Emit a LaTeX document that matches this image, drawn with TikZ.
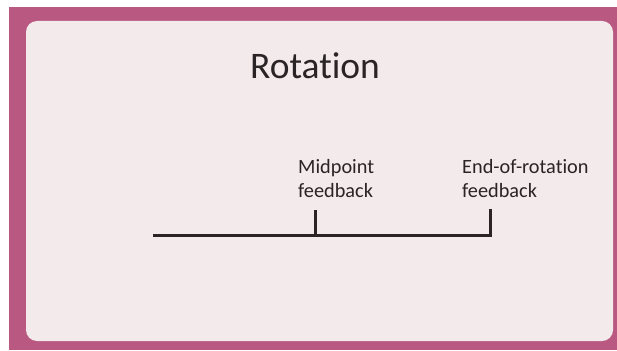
\documentclass[tikz,border=0pt]{standalone}
\usepackage{fontspec}
\setmainfont[Ligatures=NoCommon]{Carlito}
\usepackage{xcolor}
\usetikzlibrary{positioning}

\definecolor{frame}{HTML}{B95880}
\definecolor{slide}{HTML}{F2EAEB}
\definecolor{ink}{HTML}{2A2426}

\begin{document}
\begin{tikzpicture}[
    x=1pt, y=-1pt,
    lbl/.style={anchor=base west, align=left, inner sep=0pt, text=ink, font=\fontsize{20.3}{24}\selectfont},
    bar/.style={ink, line width=3pt}
  ]
    \useasboundingbox (0,0) rectangle (617,350);
    %% ---- Slide frame ----
    \fill[frame] (9,7) rectangle (617,350);
    \fill[slide, rounded corners=11pt] (26,21) rectangle (613,341);

    %% ---- Title ----
    \node[anchor=base, inner sep=0pt, text=ink, font=\fontsize{37.5}{42}\selectfont] (title) at (315,78) {Rotation};

    %% ---- Timeline ----
    \coordinate (start) at (153,235);
    \coordinate (mid) at (315,235);
    \coordinate (stop) at (490,235);
    \coordinate (midtop) at (315,210);
    \coordinate (stoptop) at (490,210);
    \draw[bar] (start) -- (stop);
    \draw[bar] (mid) -- (midtop);
    \draw[bar, line cap=rect] (stop) -- (stoptop);

    %% ---- Labels ----
    \node[lbl] (midlbl) at (298,197) {Midpoint\\feedback};
    \node[lbl] (endlbl) at (462,197) {End-of-rotation\\feedback};
\end{tikzpicture}
\end{document}
